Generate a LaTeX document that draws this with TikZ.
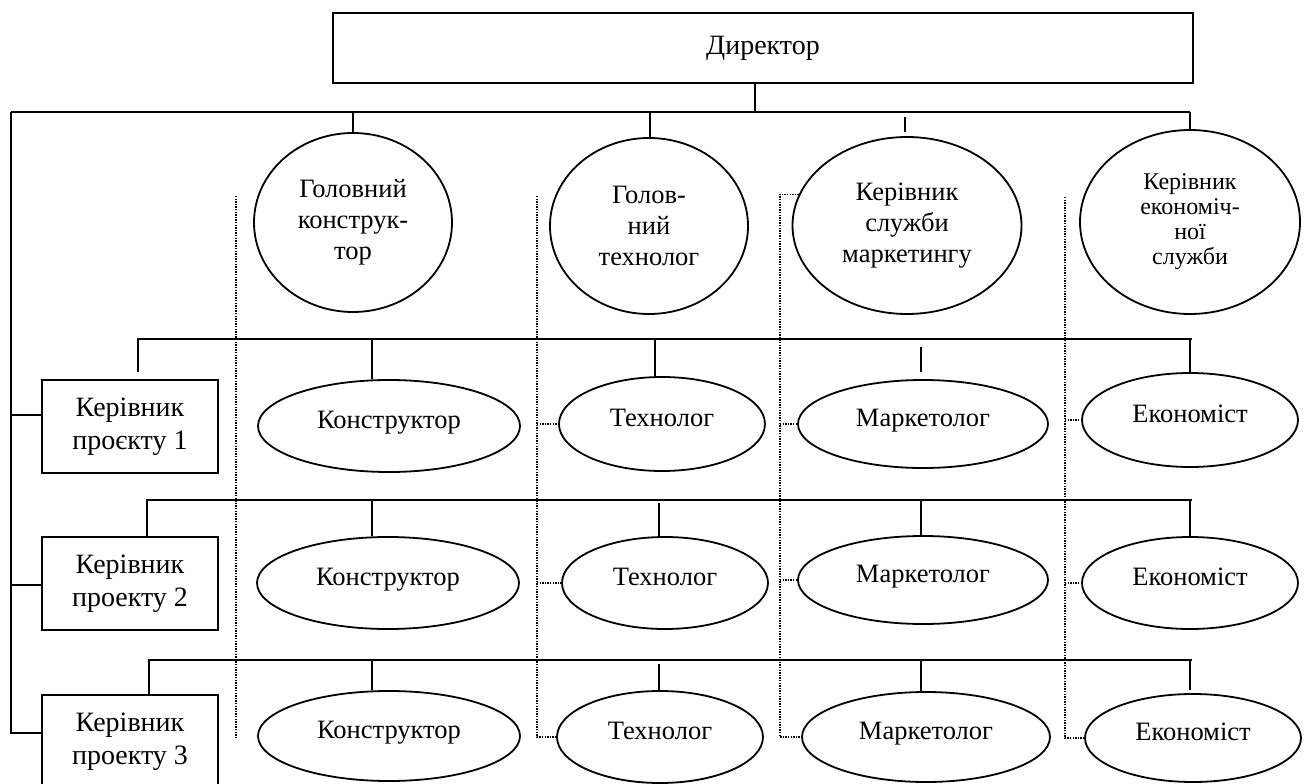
\documentclass[tikz,border=0pt]{standalone}
\usepackage{fontspec}
\setmainfont{Liberation Serif}
\usetikzlibrary{shapes.geometric}
\begin{document}
\begin{tikzpicture}[x=1pt,y=-1pt,
 ln/.style={line width=1.8pt},
 dt/.style={line width=1.4pt, dash pattern=on 1.3pt off 1.3pt},
 bx/.style={draw, line width=1.8pt, rectangle, inner sep=0pt, align=center, font=\fontsize{28}{33}\selectfont},
 el/.style={draw, line width=1.8pt, ellipse, inner sep=0pt, align=center},
 big/.style={font=\fontsize{26.5}{31}\selectfont},
 sm/.style={font=\fontsize{24}{25}\selectfont},
 row/.style={font=\fontsize{26.5}{30}\selectfont, text depth=12pt},
]
\useasboundingbox (0,0) rectangle (1307,784);

% boxes
\node[bx, minimum width=860pt, minimum height=70pt] (dir) at (763,48) {Директор};
\node[bx, minimum width=176pt, minimum height=93pt] (b1) at (130,426.5) {Керівник\\проєкту 1};
\node[bx, minimum width=176pt, minimum height=93pt] (b2) at (130,583.5) {Керівник\\проекту 2};
\node[bx, minimum width=176pt, minimum height=93pt] (b3) at (130,741.5) {Керівник\\проекту 3};

% upper ellipses
\node[el, big, minimum width=198pt, minimum height=179pt] (gk) at (353,222.5) {Головний\\конструк-\\тор};
\node[el, big, minimum width=198pt, minimum height=176pt] (gt) at (649,226) {Голов-\\ний\\технолог};
\node[el, big, minimum width=229pt, minimum height=177pt] (km) at (907,225.5) {Керівник\\служби\\маркетингу};
\node[el, sm, minimum width=220pt, minimum height=184pt] (ke) at (1190,222) {Керівник\\економіч-\\ної\\служби};

% row 1
\node[el, row, minimum width=262pt, minimum height=92pt] (K1) at (389,426) {Конструктор};
\node[el, row, minimum width=206pt, minimum height=94pt] (T1) at (662,424) {Технолог};
\node[el, row, minimum width=250pt, minimum height=88pt] (M1) at (923,424) {Маркетолог};
\node[el, row, minimum width=216pt, minimum height=94pt] (E1) at (1190,420) {Економіст};
% row 2
\node[el, row, minimum width=262pt, minimum height=92pt] (K2) at (388,583) {Конструктор};
\node[el, row, minimum width=206pt, minimum height=92pt] (T2) at (665,583) {Технолог};
\node[el, row, minimum width=250pt, minimum height=88pt] (M2) at (923,580) {Маркетолог};
\node[el, row, minimum width=216pt, minimum height=92pt] (E2) at (1190,583) {Економіст};
% row 3
\node[el, row, minimum width=262pt, minimum height=90pt] (K3) at (389,736) {Конструктор};
\node[el, row, minimum width=206pt, minimum height=92pt] (T3) at (660,737) {Технолог};
\node[el, row, minimum width=248pt, minimum height=90pt] (M3) at (926,737) {Маркетолог};
\node[el, row, minimum width=216pt, minimum height=88pt] (E3) at (1193,738) {Економіст};

% coordinates
\coordinate (busL) at (11,112);
\coordinate (busR) at (1190,112);
\coordinate (d1) at (755,112);
\coordinate (c1) at (353,112);
\coordinate (c2) at (650,112);
\coordinate (c3) at (905,112);
\coordinate (sp1) at (11,415);
\coordinate (sp2) at (11,585);
\coordinate (sp3) at (11,733);
\coordinate (r1L) at (138,339);
\coordinate (r1R) at (1192,339);
\coordinate (r2L) at (147,500);
\coordinate (r2R) at (1192,500);
\coordinate (r3L) at (149,660);
\coordinate (r3R) at (1192,660);
\coordinate (xk) at (372,0);
\coordinate (xt1) at (655,0);
\coordinate (xt) at (659,0);
\coordinate (xm) at (921,0);
\coordinate (xe) at (1190,0);
\coordinate (s1t) at (236,196);
\coordinate (s1b) at (236,738);
\coordinate (s2t) at (537,196);
\coordinate (s3t) at (780,196);
\coordinate (s4t) at (1065,197);

% top level
\draw[ln] (busL) -- (busR);
\draw[ln] (d1 |- dir.south) -- (d1);
\draw[ln] (c1) -- (c1 |- gk.north);
\draw[ln] (c2) -- (c2 |- gt.north);
\draw[ln, shorten <=5pt, shorten >=4pt] (c3) -- (c3 |- km.north);
\draw[ln] (busR) -- (ke.north);

% left spine
\draw[ln] (busL) -- (sp3) -- (sp3 -| b3.west);
\draw[ln] (sp1) -- (sp1 -| b1.west);
\draw[ln] (sp2) -- (sp2 -| b2.west);

% row 1 bus
\draw[ln, shorten <=7pt] (b1.north -| r1L) -- (r1L) -- (r1R);
\draw[ln] (xk |- r1L) -- (xk |- K1.north);
\draw[ln] (xt1 |- r1L) -- (xt1 |- T1.north);
\draw[ln, shorten <=8pt, shorten >=7pt] (xm |- r1L) -- (xm |- M1.north);
\draw[ln] (xe |- r1L) -- (E1.north);

% row 2 bus
\draw[ln] (b2.north -| r2L) -- (r2L) -- (r2R);
\draw[ln] (xk |- r2L) -- (xk |- K2.north);
\draw[ln, shorten <=3pt] (xt |- r2L) -- (xt |- T2.north);
\draw[ln] (xm |- r2L) -- (xm |- M2.north);
\draw[ln] (xe |- r2L) -- (E2.north);

% row 3 bus
\draw[ln] (b3.north -| r3L) -- (r3L) -- (r3R);
\draw[ln] (xk |- r3L) -- (xk |- K3.north);
\draw[ln, shorten <=4pt] (xt |- r3L) -- (xt |- T3.north);
\draw[ln] (xm |- r3L) -- (xm |- M3.north);
\draw[ln, shorten >=3pt] (xe |- r3L) -- (xe |- E3.north);

% dotted separators
\draw[dt] (s1t) -- (s1b);
\draw[dt] (s2t) -- (s2t |- T3.west) -- (T3.west);
\draw[dt] (s2t |- T1.west) -- (T1.west);
\draw[dt] (s2t |- T2.west) -- (T2.west);
\draw[dt] (km.164) -- (km.164 -| s3t) -- (s3t |- M3.west) -- (M3.west);
\draw[dt] (s3t |- M1.west) -- (M1.west);
\draw[dt] (s3t |- M2.west) -- (M2.west);
\draw[dt] (s4t) -- (s4t |- E3.west) -- (E3.west);
\draw[dt] (s4t |- E1.west) -- (E1.west);
\draw[dt] (s4t |- E2.west) -- (E2.west);
\end{tikzpicture}
\end{document}
